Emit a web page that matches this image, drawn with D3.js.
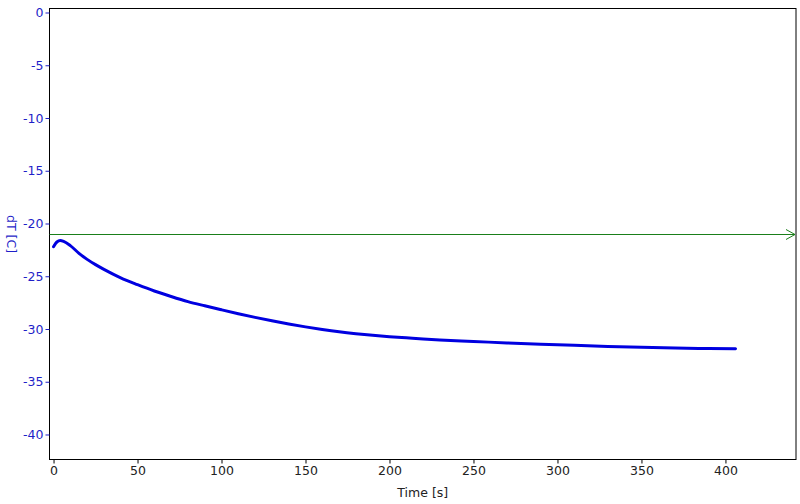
<!DOCTYPE html>
<html>
<head>
<meta charset="utf-8">
<script src="https://cdn.jsdelivr.net/npm/d3@7"></script>
<style>
  body { margin: 0; background: #fff; }
  svg { display: block; font-family: "DejaVu Sans", sans-serif; }
</style>
</head>
<body>
<svg id="chart" width="800" height="504"></svg>
<script>
const time = [0, 1, 2, 4, 6, 10, 15, 20, 25, 30, 40, 50, 60, 70, 80, 90, 100, 110, 120, 130, 140, 150, 160, 170, 180, 190, 200, 210, 220, 230, 250, 270, 290, 310, 330, 350, 370, 390, 406];
const dT   = [-22.2, -21.95, -21.75, -21.62, -21.7, -22.1, -22.8, -23.4, -23.9, -24.35, -25.15, -25.8, -26.4, -26.92, -27.4, -27.8, -28.18, -28.55, -28.9, -29.22, -29.52, -29.8, -30.05, -30.27, -30.45, -30.6, -30.73, -30.84, -30.95, -31.04, -31.18, -31.32, -31.44, -31.55, -31.65, -31.74, -31.8, -31.85, -31.88];
const xTicks = [0, 50, 100, 150, 200, 250, 300, 350, 400];
const yTicks = [0, -5, -10, -15, -20, -25, -30, -35, -40];
const refLevel = -21.0;
const xLabel = "Time [s]";
const yLabel = "dT [C]";

const svg = d3.select("#chart");
const m = { left: 49.5, right: 796, top: 8.5, bottom: 459.5 };

const x = d3.scaleLinear().domain([-2.4, 442]).range([m.left, m.right]);
const y = d3.scaleLinear().domain([0.38, -42.37]).range([m.top, m.bottom]);

const blue = "#1f1fc8";
const lineBlue = "#0000e0";
const green = "#1a7f1a";

// Frame
svg.append("rect")
  .attr("x", m.left).attr("y", m.top)
  .attr("width", m.right - m.left).attr("height", m.bottom - m.top)
  .attr("fill", "none").attr("stroke", "#000").attr("stroke-width", 1);

// X axis
const xAxis = svg.append("g")
  .attr("transform", `translate(0,${m.bottom})`)
  .call(d3.axisBottom(x).tickValues(xTicks).tickSize(4).tickPadding(3).tickFormat(d => String(d)));
xAxis.select(".domain").remove();
xAxis.selectAll("line").attr("stroke", "#000");
xAxis.selectAll("text").attr("fill", "#222").style("font-size", "12.5px").style("font-family", "DejaVu Sans");

// Y axis
const yAxis = svg.append("g")
  .attr("transform", `translate(${m.left},0)`)
  .call(d3.axisLeft(y).tickValues(yTicks).tickSize(4).tickPadding(2).tickFormat(d => String(d)));
yAxis.select(".domain").remove();
yAxis.selectAll("line").attr("stroke", blue);
yAxis.selectAll("text").attr("fill", blue).style("font-size", "12.5px").style("font-family", "DejaVu Sans");

// Axis labels
svg.append("text")
  .attr("x", (m.left + m.right) / 2).attr("y", 497)
  .attr("text-anchor", "middle").attr("fill", "#222")
  .style("font-size", "12.5px").text(xLabel);

svg.append("text")
  .attr("transform", `translate(7,${(m.top + m.bottom) / 2}) rotate(90)`)
  .attr("text-anchor", "middle").attr("fill", blue)
  .style("font-size", "12.5px").text(yLabel);

// Reference line with arrow
const ry = Math.round(y(refLevel)) + 0.5;
svg.append("line")
  .attr("x1", m.left).attr("x2", m.right - 1)
  .attr("y1", ry).attr("y2", ry)
  .attr("stroke", green).attr("stroke-width", 1);
svg.append("path")
  .attr("d", `M${m.right - 10},${ry - 5} L${m.right - 1},${ry} L${m.right - 10},${ry + 5}`)
  .attr("fill", "none").attr("stroke", green).attr("stroke-width", 1);

// Data curve
const data = time.map((t, i) => ({ t, v: dT[i] }));
svg.append("path")
  .datum(data)
  .attr("d", d3.line().x(d => x(d.t)).y(d => y(d.v)).curve(d3.curveMonotoneX))
  .attr("fill", "none").attr("stroke", lineBlue)
  .attr("stroke-width", 3).attr("stroke-linecap", "round").attr("stroke-linejoin", "round");
</script>
</body>
</html>
